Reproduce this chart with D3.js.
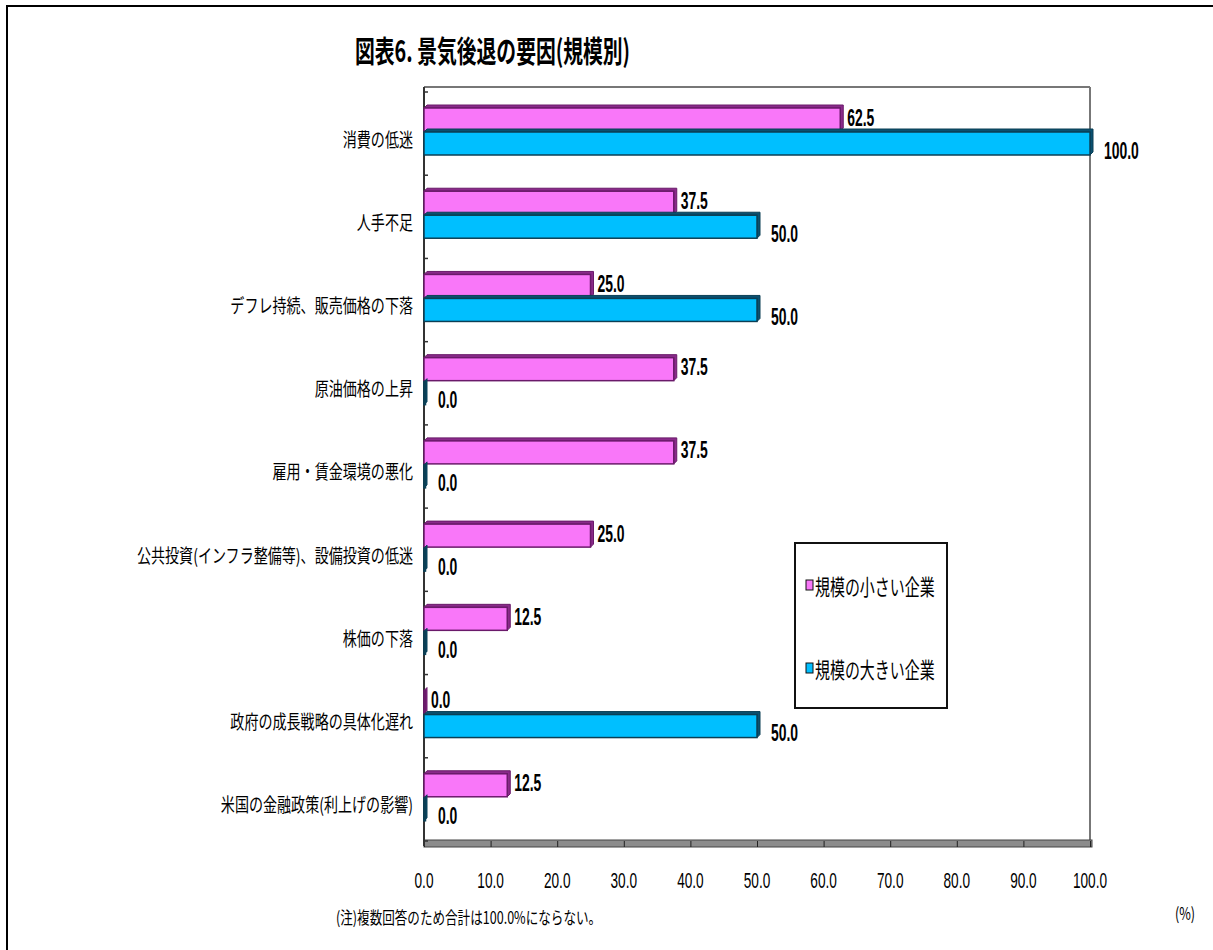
<!DOCTYPE html>
<html lang="ja">
<head>
<meta charset="UTF-8">
<title>図表6. 景気後退の要因(規模別)</title>
<script src="https://cdnjs.cloudflare.com/ajax/libs/d3/7.8.5/d3.min.js"></script>
<style>
    * { margin: 0; padding: 0; }
    body { background: #ffffff; width: 1213px; height: 950px; overflow: hidden; }
    svg { display: block; }
    text { font-family: "Noto Sans CJK JP", "Liberation Sans", sans-serif; fill: #000; }
    .num { font-family: "Liberation Sans", "DejaVu Sans", sans-serif; }
</style>
</head>
<body>
<div id="chart"></div>
<script>
    // Data
    const categories = [
        "消費の低迷",
        "人手不足",
        "デフレ持続、販売価格の下落",
        "原油価格の上昇",
        "雇用・賃金環境の悪化",
        "公共投資(インフラ整備等)、設備投資の低迷",
        "株価の下落",
        "政府の成長戦略の具体化遅れ",
        "米国の金融政策(利上げの影響)"
    ];
    const seriesNames = ["規模の小さい企業", "規模の大きい企業"];
    const smallFirms = [62.5, 37.5, 25.0, 37.5, 37.5, 25.0, 12.5, 0.0, 12.5];
    const largeFirms = [100.0, 50.0, 50.0, 0.0, 0.0, 0.0, 0.0, 50.0, 0.0];
    const xTicks = [0, 10, 20, 30, 40, 50, 60, 70, 80, 90, 100];

    const fills = ["#f977f9", "#00bfff"];
    const edges = ["#6a1a6a", "#0b3f55"];
    const depthCol = ["#8a2a8a", "#0a5070"];

    const W = 1213, H = 950;
    const plotL = 424, plotR = 1090, plotT = 92, plotB = 841;

    const svg = d3.select("#chart").append("svg")
        .attr("width", W).attr("height", H);

    // outer frame
    svg.append("rect")
        .attr("x", 7).attr("y", 6)
        .attr("width", W + 20).attr("height", H + 20)
        .attr("fill", "none").attr("stroke", "#000").attr("stroke-width", 2);

    // helper for horizontally condensed text
    function label(g, x, y, str, opts) {
        const o = Object.assign({size: 16, sx: 0.85, anchor: "start", weight: 400, cls: null}, opts);
        const t = g.append("text")
            .attr("transform", `translate(${x},${y}) scale(${o.sx},1)`)
            .attr("text-anchor", o.anchor)
            .attr("dominant-baseline", "central")
            .attr("font-size", o.size)
            .attr("font-weight", o.weight)
            .text(str);
        if (o.cls) t.attr("class", o.cls);
        return t;
    }

    // title
    label(svg, 355, 49, "図表6. 景気後退の要因(規模別)", {size: 30, sx: 0.66, weight: 700});

    // scales
    const x = d3.scaleLinear().domain([0, 100]).range([plotL, plotR]);
    const y = d3.scaleBand().domain(categories).range([plotT, plotB]);
    const ySub = d3.scaleBand().domain(seriesNames).range([16, 64]);

    // plot frame (back wall)
    svg.append("line")
        .attr("x1", plotL).attr("x2", plotR).attr("y1", 87).attr("y2", 87)
        .attr("stroke", "#777").attr("stroke-width", 2);
    svg.append("line")
        .attr("x1", plotR).attr("x2", plotR).attr("y1", 87).attr("y2", plotB + 5)
        .attr("stroke", "#777").attr("stroke-width", 2);

    // floor of x axis
    svg.append("rect")
        .attr("x", plotL).attr("y", plotB - 1)
        .attr("width", plotR - plotL + 2).attr("height", 7)
        .attr("fill", "#8c8c8c").attr("stroke", "#444").attr("stroke-width", 1);

    const xAxis = svg.append("g")
        .attr("transform", `translate(0,${plotB})`)
        .call(d3.axisBottom(x).tickValues(xTicks).tickSize(6).tickFormat(""));
    xAxis.select(".domain").remove();
    xAxis.selectAll(".tick line").attr("stroke", "#222");

    const tickG = svg.append("g");
    xTicks.forEach(v => {
        label(tickG, x(v), 880, d3.format(".1f")(v), {size: 22, sx: 0.62, anchor: "middle", cls: "num"});
    });

    // y axis
    const yBounds = categories.map(c => y(c)).concat([plotB]);
    const yAxis = svg.append("g");
    yAxis.append("line")
        .attr("x1", plotL).attr("x2", plotL).attr("y1", 87).attr("y2", plotB + 5)
        .attr("stroke", "#333").attr("stroke-width", 2);
    yAxis.selectAll(".yt").data(yBounds).join("line")
        .attr("class", "yt")
        .attr("x1", plotL).attr("x2", plotL + 4)
        .attr("y1", d => d).attr("y2", d => d)
        .attr("stroke", "#333").attr("stroke-width", 1.5);

    // category labels
    const catG = svg.append("g");
    categories.forEach(c => {
        label(catG, 413, y(c) + y.bandwidth() / 2 + 5, c, {size: 19, sx: 0.74, anchor: "end"});
    });

    // bars
    const rows = categories.map((c, i) => ({cat: c, vals: [smallFirms[i], largeFirms[i]]}));
    const depth = 3;
    const barG = svg.append("g");
    rows.forEach(r => {
        r.vals.forEach((v, s) => {
            const y0 = y(r.cat) + ySub(seriesNames[s]);
            const h = ySub.bandwidth() - 1;
            const x0 = x(0), x1 = x(v);
            // 3D top and right faces
            const p = d3.path();
            p.moveTo(x0, y0);
            p.lineTo(x0 + depth, y0 - depth);
            p.lineTo(x1 + depth, y0 - depth);
            p.lineTo(x1 + depth, y0 + h - depth);
            p.lineTo(x1, y0 + h);
            p.lineTo(x1, y0);
            p.closePath();
            barG.append("path")
                .attr("d", p.toString())
                .attr("fill", depthCol[s])
                .attr("stroke", edges[s]).attr("stroke-width", 1);
            barG.append("rect")
                .attr("x", x0).attr("y", y0)
                .attr("width", Math.max(x1 - x0, 1.5)).attr("height", h)
                .attr("fill", fills[s])
                .attr("stroke", edges[s]).attr("stroke-width", 1.5);
        });
    });

    // value labels
    const valG = svg.append("g");
    const hb = ySub.bandwidth() / 2;
    rows.forEach(r => {
        const yp = y(r.cat) + ySub(seriesNames[0]) + hb;
        const yb = y(r.cat) + ySub(seriesNames[1]) + hb;
        label(valG, x(r.vals[0]) + 7, yp - 3, d3.format(".1f")(r.vals[0]),
            {size: 24, sx: 0.58, weight: 700, cls: "num"});
        label(valG, x(r.vals[1]) + 14, yb + 6, d3.format(".1f")(r.vals[1]),
            {size: 24, sx: 0.58, weight: 700, cls: "num"});
    });

    // legend
    const lg = svg.append("g");
    lg.append("rect")
        .attr("x", 795).attr("y", 543).attr("width", 152).attr("height", 165)
        .attr("fill", "#fff").attr("stroke", "#111").attr("stroke-width", 2);
    seriesNames.forEach((n, i) => {
        const ly = 585 + i * 83;
        lg.append("rect")
            .attr("x", 806).attr("y", ly - 5).attr("width", 7).attr("height", 10)
            .attr("fill", fills[i]).attr("stroke", "#111").attr("stroke-width", 1);
        label(lg, 815, ly, n, {size: 22, sx: 0.68});
    });

    // notes
    label(svg, 336, 917, "(注)複数回答のため合計は100.0%にならない。", {size: 17, sx: 0.74});
    label(svg, 1175, 913, "(%)", {size: 17, sx: 0.74});
</script>
</body>
</html>
